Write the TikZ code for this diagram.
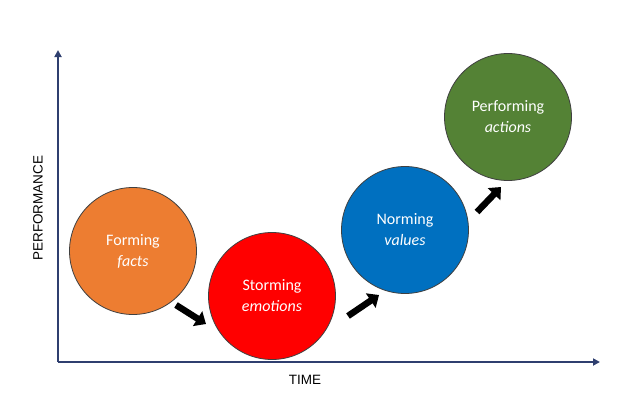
\documentclass[tikz,border=0pt]{standalone}
\usepackage{fontspec}
\setmainfont{Carlito}
\newfontfamily\axfont{Liberation Sans}
\usetikzlibrary{arrows.meta}
\definecolor{axisblue}{HTML}{2F3F6F}
\definecolor{formc}{HTML}{ED7D31}
\definecolor{stormc}{HTML}{FF0000}
\definecolor{normc}{HTML}{0070C0}
\definecolor{perfc}{HTML}{548235}
\tikzset{
  stage/.style={circle, draw=black!75, line width=0.8pt, minimum size=127pt, inner sep=0pt, text=white, font=\fontsize{16}{21}\selectfont, align=center},
  axis/.style={draw=axisblue, line width=1.8pt, -{Triangle[length=7pt,width=7pt]}},
  blockarrow/.style={draw=black, line width=6.5pt, -{Triangle[length=10pt,width=17pt]}},
  axlabel/.style={font=\axfont\fontsize{13.5}{15}\selectfont, text=black}
}
\begin{document}
\begin{tikzpicture}[x=1pt,y=-1pt]
\useasboundingbox (0,0) rectangle (640,410);
\coordinate (origin) at (58,362);
\coordinate (ytop) at (58,50);
\coordinate (xend) at (600,362);
\draw[axis] (origin) -- (ytop);
\draw[axis] (origin) -- (xend);
\node[axlabel, rotate=90] (perf) at (38,208) {PERFORMANCE};
\node[axlabel] (time) at (305,380) {TIME};
\node[stage, fill=formc] (forming) at (133,251) {Forming\\\textit{facts}};
\node[stage, fill=stormc] (storming) at (272,296) {Storming\\\textit{emotions}};
\node[stage, fill=normc] (norming) at (405,230) {Norming\\\textit{values}};
\node[stage, fill=perfc] (performing) at (508,117) {Performing\\\textit{actions}};
\coordinate (a1s) at (176,305);
\coordinate (a1e) at (206,324);
\coordinate (a2s) at (348,316);
\coordinate (a2e) at (379,295);
\coordinate (a3s) at (477,212);
\coordinate (a3e) at (501,187);
\draw[blockarrow] (a1s) -- (a1e);
\draw[blockarrow] (a2s) -- (a2e);
\draw[blockarrow] (a3s) -- (a3e);
\end{tikzpicture}
\end{document}
